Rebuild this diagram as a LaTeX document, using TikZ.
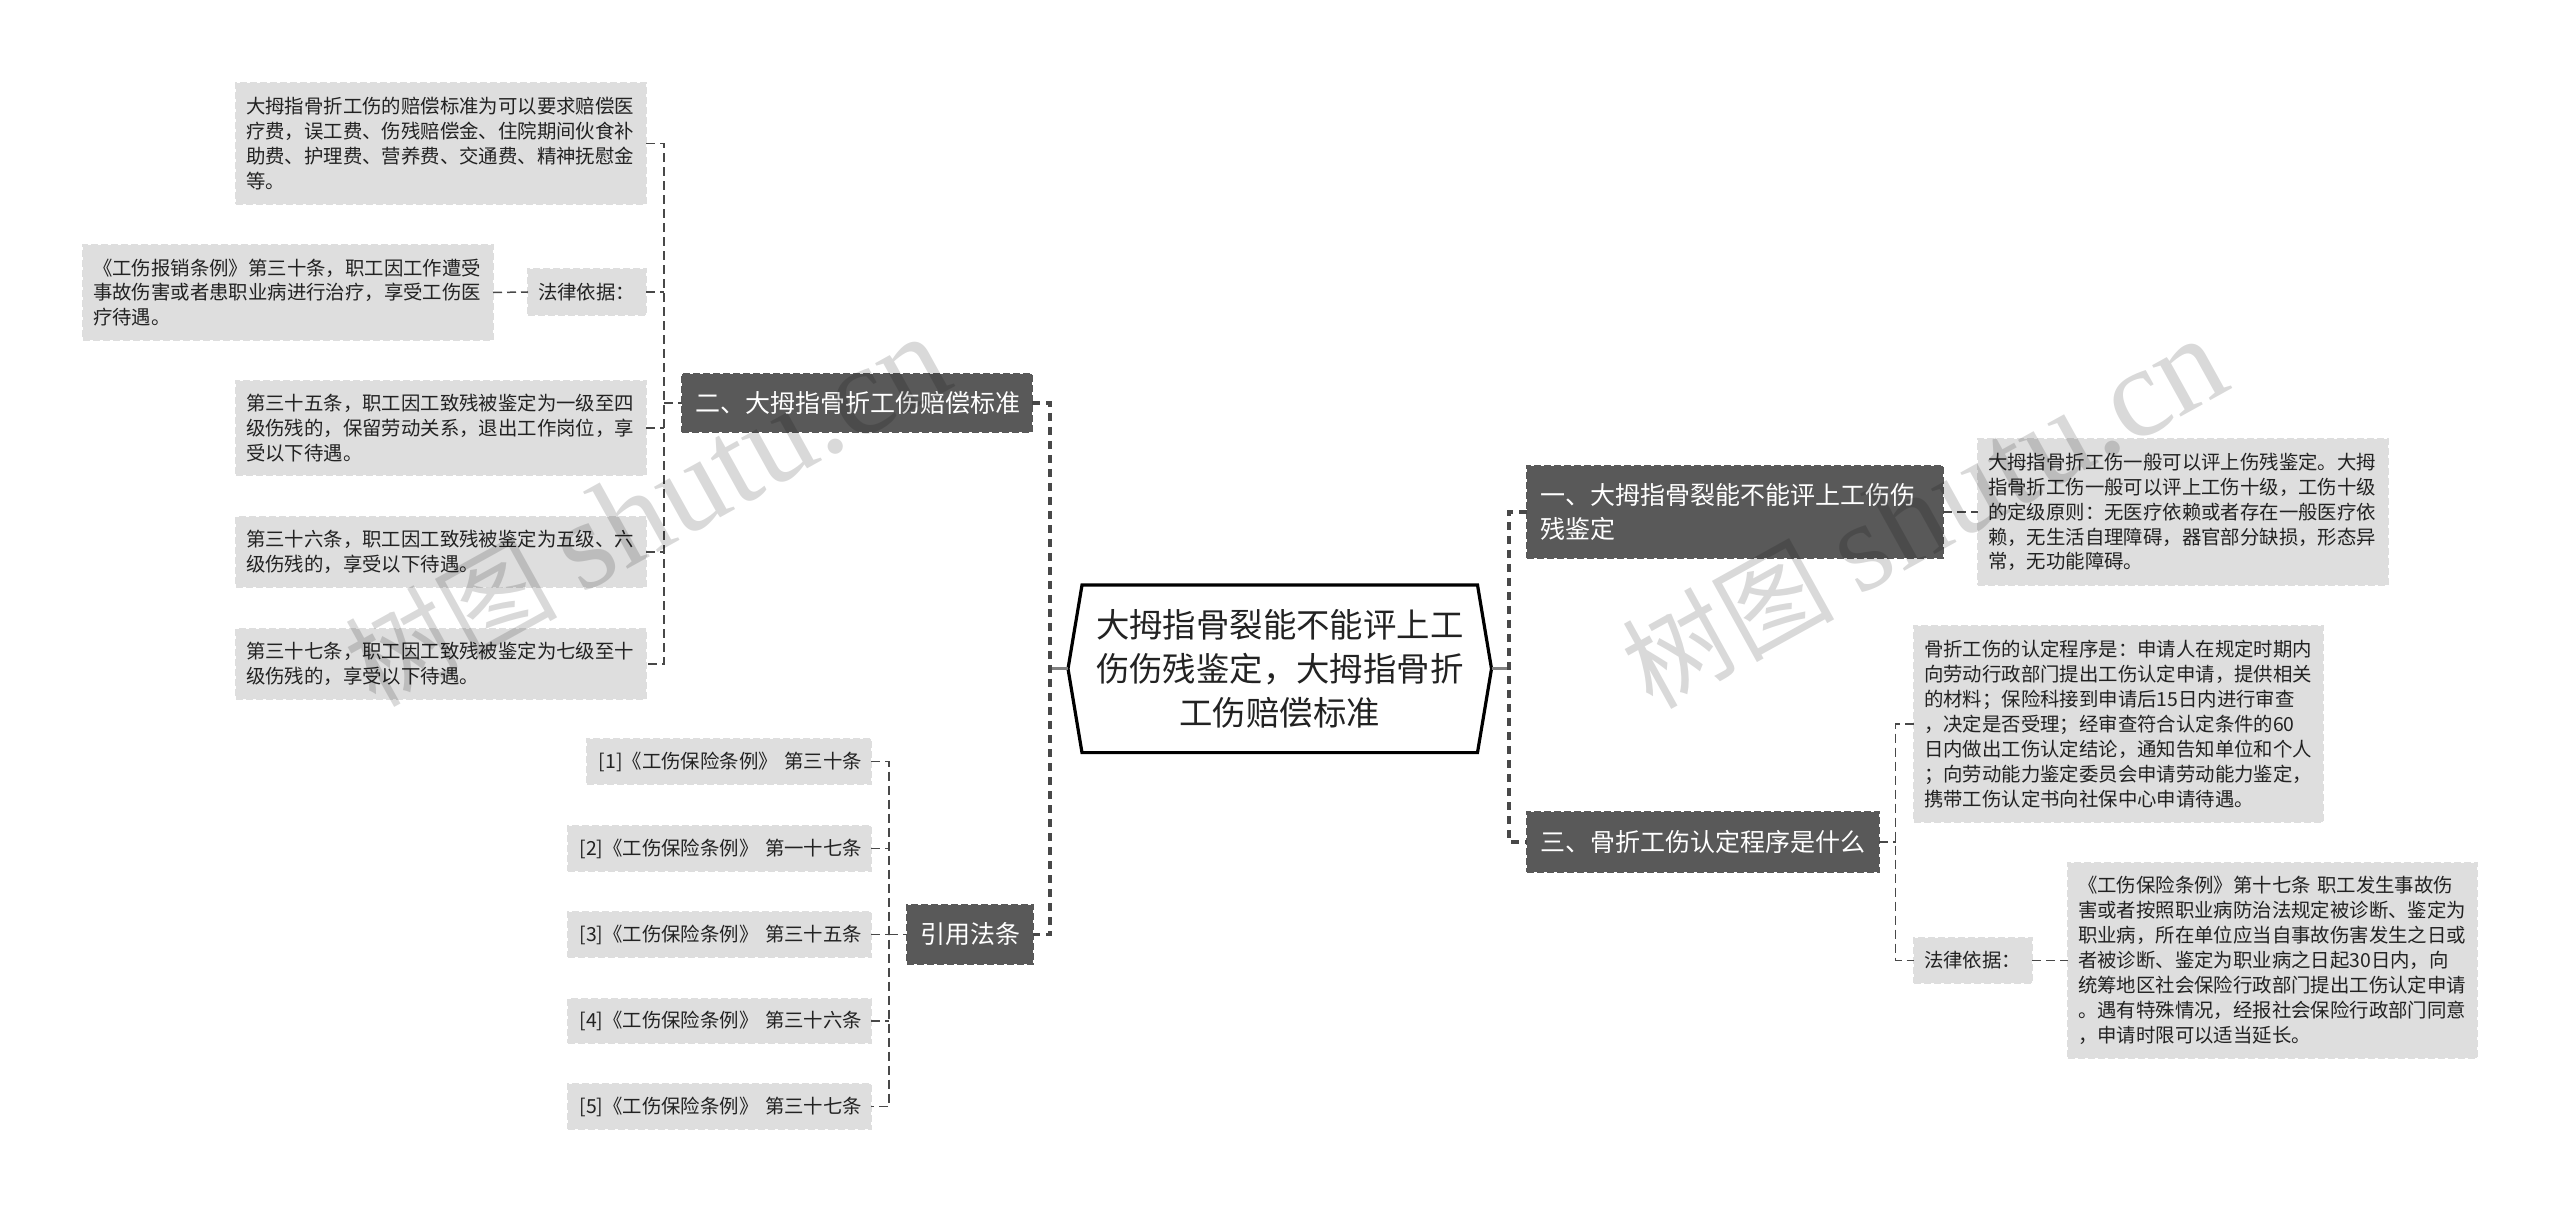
\documentclass[tikz,border=0pt]{standalone}
\usepackage{fontspec}
\setmainfont{Noto Sans CJK SC}
\newfontfamily\wmlatin{Liberation Serif}
\usetikzlibrary{calc,backgrounds}
\definecolor{leafgray}{HTML}{DEDEDE}
\definecolor{headgray}{HTML}{595959}
\definecolor{inkdark}{HTML}{222222}
\definecolor{linkgray}{HTML}{484848}
\tikzset{
  boxbase/.style={inner ysep=0pt,outer sep=0pt,line width=1pt,dash pattern=on 3.5pt off 1.5pt},
  leafbox/.style={boxbase,fill=leafgray,draw=leafgray,text=inkdark,align=left,font=\fontsize{9.7pt}{12.45pt}\selectfont},
  citebox/.style={leafbox,align=right},
  headbox/.style={boxbase,fill=headgray,draw=black!65,text=white,align=left,font=\fontsize{12.5pt}{17pt}\selectfont},
  centrebox/.style={inner sep=0pt,outer sep=0pt,text=inkdark,align=center,font=\fontsize{16.7pt}{22pt}\selectfont},
  hexline/.style={line width=1.6pt,draw=black,fill=white,line join=miter},
  link/.style={draw=linkgray,line width=.75pt,dash pattern=on 4.5pt off 2.5pt},
  trunk/.style={draw=linkgray,line width=1.6pt,dash pattern=on 4pt off 3pt},
  stub/.style={draw=gray,line width=1.6pt},
  wmark/.style={text=black,text opacity=.15,inner sep=0pt,rotate=29,font=\fontsize{53pt}{53pt}\selectfont},
}
% style, name, padding, x0, y0, x1, y1, text (pixels of the reference)
\newcommand\bx[8]{%
  \pgfmathsetmacro\bxw{(#6-#4)*0.5}%
  \pgfmathsetmacro\bxh{(#7-#5)*0.5}%
  \pgfmathsetmacro\bxp{#3*0.5}%
  \pgfmathsetmacro\bxt{(#6-#4-2*#3)*0.5}%
  \node[#1,minimum width=\bxw pt,minimum height=\bxh pt,inner xsep=\bxp pt,text width=\bxt pt] (#2) at ({(#4+#6)/2},{(#5+#7)/2}) {#8};%
}
\begin{document}
\begin{tikzpicture}[x=0.5pt,y=-0.5pt]
\useasboundingbox (0,0) rectangle (2560,1213);
% centre
\node[centrebox,minimum width=211.75pt,minimum height=83.8pt] (centre) at (1279.75,668.8)
  {大拇指骨裂能不能评上工\\伤伤残鉴定，大拇指骨折\\工伤赔偿标准};
\begin{scope}[on background layer]
\filldraw[hexline] (centre.west) -- ($(centre.north west)+(14,0)$) -- ($(centre.north east)+(-14,0)$)
  -- (centre.east) -- ($(centre.south east)+(-14,0)$) -- ($(centre.south west)+(14,0)$) -- cycle;
\end{scope}
% heads
\bx{headbox}{h2}{13}{682}{374}{1032}{432}{二、大拇指骨折工伤赔偿标准}
\bx{headbox}{cite}{13}{907}{905}{1033}{964}{引用法条}
\bx{headbox}{h1}{13}{1527}{466}{1943}{558}{一、大拇指骨裂能不能评上工伤伤\\残鉴定}
\bx{headbox}{h3}{13}{1527}{812}{1879}{872}{三、骨折工伤认定程序是什么}
% left leaves
\bx{leafbox}{a1}{10}{236}{83}{646}{204}{大拇指骨折工伤的赔偿标准为可以要求赔偿医\\疗费，误工费、伤残赔偿金、住院期间伙食补\\助费、护理费、营养费、交通费、精神抚慰金\\等。}
\bx{leafbox}{alaw}{10}{528}{269}{646}{315}{法律依据：}
\bx{leafbox}{atext}{10}{83}{245}{493}{340}{《工伤报销条例》第三十条，职工因工作遭受\\事故伤害或者患职业病进行治疗，享受工伤医\\疗待遇。}
\bx{leafbox}{a3}{10}{236}{381}{646}{475}{第三十五条，职工因工致残被鉴定为一级至四\\级伤残的，保留劳动关系，退出工作岗位，享\\受以下待遇。}
\bx{leafbox}{a4}{10}{236}{517}{646}{587}{第三十六条，职工因工致残被鉴定为五级、六\\级伤残的，享受以下待遇。}
\bx{leafbox}{a5}{10}{236}{629}{646}{699}{第三十七条，职工因工致残被鉴定为七级至十\\级伤残的，享受以下待遇。}
% citations
\bx{citebox}{r1}{9}{587}{739}{871}{784}{[1]《工伤保险条例》 第三十条}
\bx{citebox}{r2}{9}{568}{826}{871}{871}{[2]《工伤保险条例》 第一十七条}
\bx{citebox}{r3}{9}{568}{912}{871}{957}{[3]《工伤保险条例》 第三十五条}
\bx{citebox}{r4}{9}{568}{999}{871}{1043}{[4]《工伤保险条例》 第三十六条}
\bx{citebox}{r5}{9}{568}{1084}{871}{1129}{[5]《工伤保险条例》 第三十七条}
% right leaves
\bx{leafbox}{b1}{10}{1978}{439}{2388}{585}{大拇指骨折工伤一般可以评上伤残鉴定。大拇\\指骨折工伤一般可以评上工伤十级，工伤十级\\的定级原则：无医疗依赖或者存在一般医疗依\\赖，无生活自理障碍，器官部分缺损，形态异\\常，无功能障碍。}
\bx{leafbox}{c1}{10}{1914}{626}{2323}{822}{骨折工伤的认定程序是：申请人在规定时期内\\向劳动行政部门提出工伤认定申请，提供相关\\的材料；保险科接到申请后15日内进行审查\\，决定是否受理；经审查符合认定条件的60\\日内做出工伤认定结论，通知告知单位和个人\\；向劳动能力鉴定委员会申请劳动能力鉴定，\\携带工伤认定书向社保中心申请待遇。}
\bx{leafbox}{claw}{10}{1914}{938}{2032}{983}{法律依据：}
\bx{leafbox}{ctext}{10}{2068}{863}{2477}{1058}{《工伤保险条例》第十七条 职工发生事故伤\\害或者按照职业病防治法规定被诊断、鉴定为\\职业病，所在单位应当自事故伤害发生之日或\\者被诊断、鉴定为职业病之日起30日内，向\\统筹地区社会保险行政部门提出工伤认定申请\\。遇有特殊情况，经报社会保险行政部门同意\\，申请时限可以适当延长。}
% bus points
\coordinate (busL) at (1050,668.8);
\coordinate (busR) at (1509,668.8);
\coordinate (busH2) at (664,403);
\coordinate (busC) at (889,934.5);
\coordinate (busH3) at (1895.5,842);
% connectors
\draw[stub] (centre.west) -- (busL);
\draw[stub] (centre.east) -- (busR);
\draw[trunk] (h2.east) -| (busL) |- (cite.east);
\draw[trunk] (h1.west) -| (busR) |- (h3.west);
\draw[link] (a1.east) -| (busH2) |- (a5.east);
\foreach \n in {alaw,a3,a4} {\draw[link] (\n.east) -- (\n.east -| busH2);}
\draw[link] (busH2) -- (h2.west);
\draw[link] (atext.east) -- (alaw.west);
\draw[link] (r1.east) -| (busC) |- (r5.east);
\foreach \n in {r2,r3,r4} {\draw[link] (\n.east) -- (\n.east -| busC);}
\draw[link] (busC) -- (cite.west);
\draw[link] (h1.east) -- (b1.west);
\draw[link] (h3.east) -- (busH3);
\draw[link] (c1.west) -| (busH3) |- (claw.west);
\draw[link] (claw.east) -- (ctext.west);
% watermarks
\node[wmark] (wm1) at (647,512) {树图 {\wmlatin\fontsize{64pt}{64pt}\selectfont shutu.cn}};
\node[wmark] (wm2) at (1924,514) {树图 {\wmlatin\fontsize{64pt}{64pt}\selectfont shutu.cn}};
\end{tikzpicture}
\end{document}
